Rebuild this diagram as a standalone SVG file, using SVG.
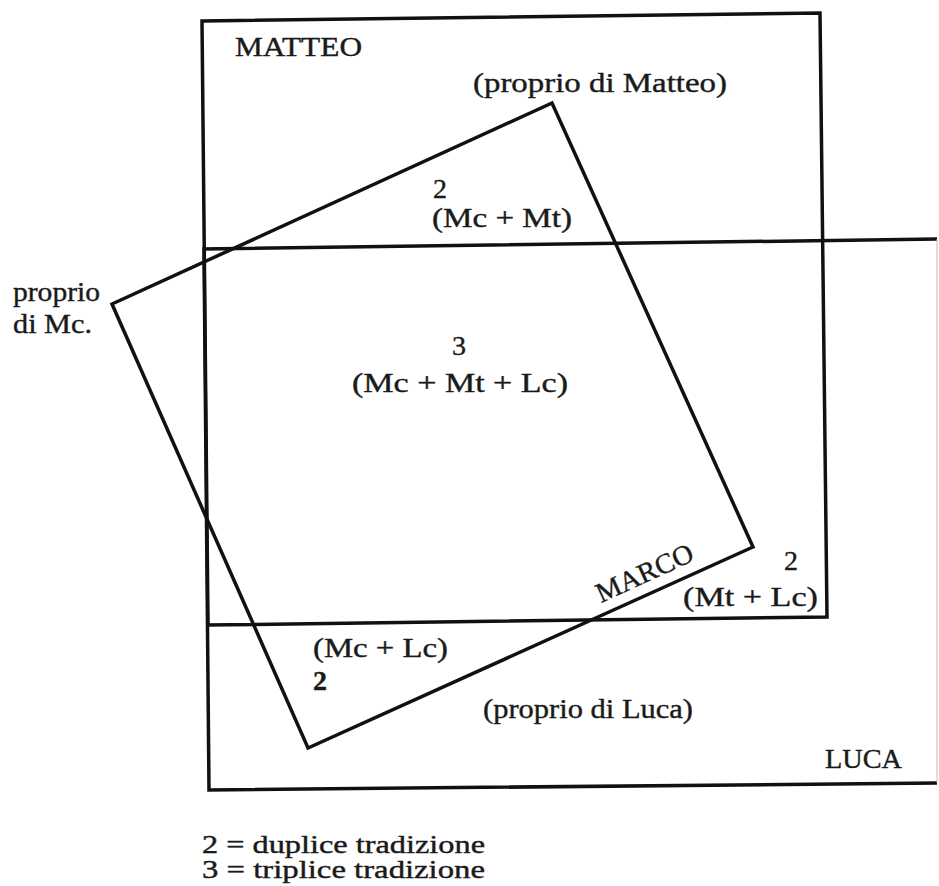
<svg xmlns="http://www.w3.org/2000/svg" width="939" height="886" viewBox="0 0 939 886">
<style>
.ln{fill:none;stroke:#111;stroke-width:3.5;stroke-linejoin:miter}
.t{font-family:"Liberation Serif","Times New Roman",serif;font-size:28px;fill:#1a1a1a;stroke:#1a1a1a;stroke-width:0.4}
.b{font-weight:bold}
.lg{font-size:25px}
</style>
<rect width="939" height="886" fill="#fff"/>
<g id="matteo">
<polygon class="ln" points="202,21 820,13 827,617 208,625"/>
<text class="t" x="235" y="56" textLength="127" lengthAdjust="spacingAndGlyphs">MATTEO</text>
<text class="t" x="473" y="92" textLength="254" lengthAdjust="spacingAndGlyphs">(proprio di  Matteo)</text>
</g>
<g id="luca">
<polyline class="ln" points="937,239 204,249 209,790 937,783"/>
<line x1="937" y1="239" x2="937" y2="783" stroke="#bbb" stroke-width="1"/>
<text class="t" x="825" y="768" textLength="77" lengthAdjust="spacingAndGlyphs">LUCA</text>
<text class="t" x="483" y="718" textLength="210" lengthAdjust="spacingAndGlyphs">(proprio di Luca)</text>
</g>
<g id="marco">
<polygon class="ln" points="112,304 552,103 753,547 308,748"/>
<text class="t" x="0" y="0" font-size="24" textLength="104" lengthAdjust="spacingAndGlyphs" transform="translate(601,603) rotate(-24.5)">MARCO</text>
<text class="t" x="13" y="301" textLength="87" lengthAdjust="spacingAndGlyphs">proprio</text>
<text class="t" x="13" y="333" textLength="79" lengthAdjust="spacingAndGlyphs">di Mc.</text>
</g>
<g id="mc-mt">
<text class="t" x="433" y="198">2</text>
<text class="t" x="432" y="227" textLength="140" lengthAdjust="spacingAndGlyphs">(Mc + Mt)</text>
</g>
<g id="triple">
<text class="t" x="452" y="355">3</text>
<text class="t" x="352" y="392" textLength="216" lengthAdjust="spacingAndGlyphs">(Mc + Mt + Lc)</text>
</g>
<g id="mt-lc">
<text class="t" x="784" y="570">2</text>
<text class="t" x="683" y="606" textLength="135" lengthAdjust="spacingAndGlyphs">(Mt + Lc)</text>
</g>
<g id="mc-lc">
<text class="t" x="313" y="657" textLength="135" lengthAdjust="spacingAndGlyphs">(Mc + Lc)</text>
<text class="t b" x="313" y="690">2</text>
</g>
<g id="legend">
<text class="t lg" x="202" y="853" textLength="283" lengthAdjust="spacingAndGlyphs">2 = duplice  tradizione</text>
<text class="t lg" x="202" y="878" textLength="283" lengthAdjust="spacingAndGlyphs">3 = triplice  tradizione</text>
</g>
<g id="connectors"></g>
</svg>
